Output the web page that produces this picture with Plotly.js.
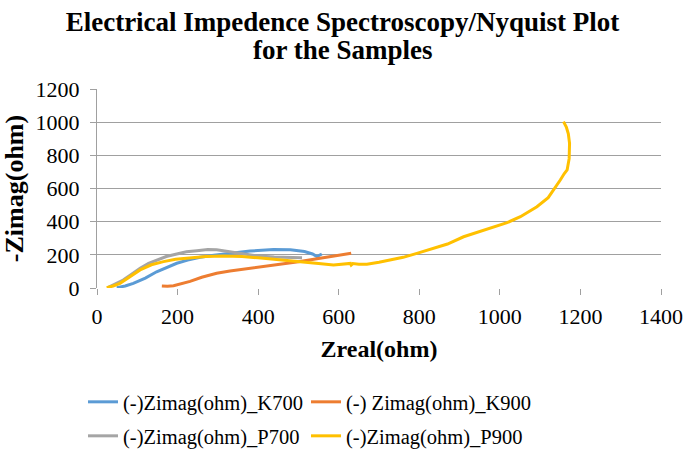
<!DOCTYPE html>
<html>
<head>
<meta charset="utf-8">
<script src="https://cdn.plot.ly/plotly-3.0.1.min.js"></script>
<style>
  html, body { margin: 0; padding: 0; background: #fff; }
  #chart { width: 685px; height: 453px; }
</style>
</head>
<body>
<div id="chart"></div>
<script>
// Nyquist plot data (Zreal, -Zimag in ohm)
const k700X = [49, 70, 90, 120, 148, 175, 198, 225, 256, 290, 330, 380, 438, 480, 515, 535, 546, 552, 558];
const k700Y = [2, 12, 28, 60, 98, 125, 149, 168, 185, 198, 209, 223, 232, 230, 220, 205, 190, 196, 205];

const k900X = [161, 175, 190, 210, 231, 260, 297, 330, 363, 400, 430, 463, 500, 546, 590, 631];
const k900Y = [12, 10, 14, 25, 40, 65, 89, 102, 113, 122, 132, 145, 158, 176, 192, 210];

const p700X = [28, 45, 65, 85, 107, 128, 148, 172, 198, 222, 248, 275, 297, 320, 340, 370, 400, 440, 480, 509];
const p700Y = [4, 22, 48, 82, 119, 148, 169, 190, 205, 218, 225, 232, 230, 222, 212, 200, 193, 187, 184, 183];

const p900X = [24, 40, 57, 80, 107, 135, 165, 195, 231, 270, 314, 360, 400, 430, 463, 510, 550, 587, 610, 629, 631, 635,
  650, 670, 700, 728, 760, 794, 827, 870, 910, 960, 1018, 1051, 1092, 1120, 1134, 1150, 1160, 1167, 1172, 1173, 1170, 1165, 1158];
const p900Y = [2, 12, 28, 65, 109, 140, 159, 173, 183, 190, 193, 190, 182, 176, 169, 158, 148, 139, 142, 148, 138, 147,
  143, 143, 155, 169, 185, 209, 233, 265, 309, 350, 394, 430, 490, 545, 591, 651, 690, 712, 780, 872, 930, 970, 1003];

const seriesNames = ['(-)Zimag(ohm)_K700', '(-) Zimag(ohm)_K900', '(-)Zimag(ohm)_P700', '(-)Zimag(ohm)_P900'];
const seriesColors = ['#5B9BD5', '#ED7D31', '#A5A5A5', '#FFC000'];
// one small legend per entry so the 2x2 grid sits where the original has it
const seriesLegend = ['legend', 'legend2', 'legend3', 'legend4'];

const xTicks = [0, 200, 400, 600, 800, 1000, 1200, 1400];
const yTicks = [0, 200, 400, 600, 800, 1000, 1200];

const titleLines = ['Electrical Impedence Spectroscopy/Nyquist Plot', 'for the Samples'];

const serif = '"Liberation Serif", "Times New Roman", Times, serif';

const xs = [k700X, k900X, p700X, p900X];
const ys = [k700Y, k900Y, p700Y, p900Y];
const data = xs.map((x, i) => ({
  x: x,
  y: ys[i],
  name: seriesNames[i],
  legend: seriesLegend[i],
  mode: 'lines',
  type: 'scatter',
  line: { color: seriesColors[i], width: 3, shape: 'linear' }
}));

function legendAt(xPx, yPx) {
  return {
    orientation: 'h',
    xref: 'container', x: xPx / 685, xanchor: 'left',
    yref: 'container', y: 1 - yPx / 453, yanchor: 'middle',
    font: { family: serif, size: 20.5, color: '#000' },
    bgcolor: 'rgba(0,0,0,0)'
  };
}

const layout = {
  width: 685,
  height: 453,
  margin: { l: 97, r: 24, t: 89, b: 165 },
  paper_bgcolor: '#fff',
  plot_bgcolor: '#fff',
  font: { family: serif, color: '#000', size: 22 },
  title: {
    text: '<b>' + titleLines[0] + '</b>',
    font: { family: serif, size: 27, color: '#000' },
    x: 0.5, xanchor: 'center',
    yref: 'container', y: 1 - 22 / 453, yanchor: 'middle'
  },
  annotations: [{
    text: '<b>' + titleLines[1] + '</b>',
    font: { family: serif, size: 27, color: '#000' },
    xref: 'paper', x: 0.5 * (685 / 564) - 97 / 564, xanchor: 'center',
    yref: 'paper', y: 1 + (89 - 50) / 199, yanchor: 'middle',
    showarrow: false
  }],
  xaxis: {
    range: [0, 1400],
    tickvals: xTicks,
    ticktext: xTicks.map(String),
    showgrid: false,
    zeroline: false,
    showline: false,
    ticks: 'outside', ticklen: 6, tickcolor: '#a0a0a0',
    ticklabelstandoff: 3,
    tickfont: { family: serif, size: 22 },
    title: { text: '<b>Zreal(ohm)</b>', font: { family: serif, size: 24 }, standoff: 11 }
  },
  yaxis: {
    range: [0, 1200],
    tickvals: yTicks,
    ticktext: yTicks.map(String),
    showgrid: true, gridcolor: '#a0a0a0', gridwidth: 1,
    zeroline: false,
    showline: true, linecolor: '#a0a0a0', linewidth: 1,
    ticks: 'outside', ticklen: 6, tickcolor: '#a0a0a0',
    ticklabelstandoff: 6,
    tickfont: { family: serif, size: 22 },
    title: { text: '<b>-Zimag(ohm)</b>', font: { family: serif, size: 26 }, standoff: 6 }
  },
  showlegend: true,
  legend: legendAt(83, 402),
  legend2: legendAt(306, 402),
  legend3: legendAt(83, 436),
  legend4: legendAt(306, 436)
};

Plotly.newPlot('chart', data, layout, { displayModeBar: false, staticPlot: true });
</script>
</body>
</html>
